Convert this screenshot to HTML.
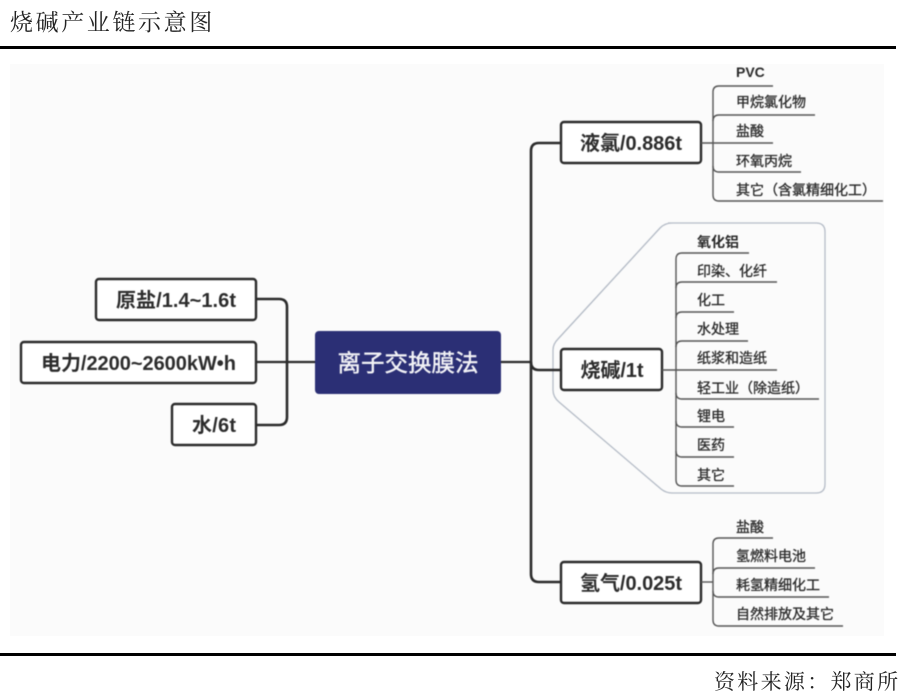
<!DOCTYPE html>
<html lang="zh">
<head>
<meta charset="utf-8">
<title>烧碱产业链示意图</title>
<style>
html,body{margin:0;padding:0;background:#fff;}
body{width:910px;height:696px;overflow:hidden;position:relative;}
svg{position:absolute;left:0;top:0;}
.d{filter:blur(.5px);}
.box{fill:#fff;stroke:#2b2b2b;stroke-width:2.4;}
.main{fill:none;stroke:#2b2b2b;stroke-width:2.6;}
.thin{fill:none;stroke:#555;stroke-width:1.4;}
.hd{font-family:"Liberation Sans","Noto Sans CJK SC",sans-serif;font-weight:700;font-size:20px;fill:#2c2c2c;text-anchor:middle;}
.lf{font-family:"Liberation Sans","Noto Sans CJK SC",sans-serif;font-weight:700;font-size:20px;fill:#2c2c2c;text-anchor:end;}
.c{font-family:"Liberation Sans","Noto Sans CJK SC",sans-serif;font-size:14px;fill:#2a2a2a;stroke:#2a2a2a;stroke-width:.3px;}
.b{font-weight:700;stroke:none;}
.ser{font-family:"Liberation Serif","Noto Serif CJK SC",serif;fill:#222;}
</style>
</head>
<body>
<svg width="910" height="696" viewBox="0 0 910 696" xmlns="http://www.w3.org/2000/svg">
  <rect x="10" y="64" width="874" height="572" fill="#fbfbfb"/>
  <g class="d">
    <path d="M668 223H816Q825 223 825 232V484Q825 493 816 493H672Q666 493 661 489L559 402Q553 397 553 390V350Q553 344 558 339L660 228Q665 223 672 223Z" fill="none" stroke="#b4bbc6" stroke-width="1.3"/>

    <path class="main" d="M256 299H279Q287 299 287 307V417Q287 425 279 425H256"/>
    <path class="main" d="M256 362H315" style="stroke-width:2.2"/>
    <path class="main" d="M501 362H531" style="stroke-width:2.2"/>
    <path class="main" d="M561 143H539Q531 143 531 151V574Q531 582 539 582H561"/>
    <path class="main" d="M531 362Q531 370 539 370H561"/>

    <rect class="box" x="96" y="279" width="160" height="41" rx="3"/>
    <rect class="box" x="21" y="342" width="235" height="41" rx="3"/>
    <rect class="box" x="172" y="404" width="84" height="41" rx="3"/>
    <rect x="315" y="331" width="186" height="63" rx="4" fill="#2b2f75"/>
    <rect class="box" x="561" y="122" width="140" height="41" rx="3"/>
    <rect class="box" x="561" y="349" width="101" height="41" rx="3"/>
    <rect class="box" x="561" y="562" width="140" height="41" rx="3"/>

    <g class="thin">
      <path d="M773 86H719Q713 86 713 92V195Q713 201 719 201H883"/>
      <path d="M713 121Q713 115 719 115H815"/>
      <path d="M701 143H773"/>
      <path d="M713 166Q713 172 719 172H801"/>

      <path d="M749 253H682Q676 253 676 259V480Q676 486 682 486H734"/>
      <path d="M676 288Q676 282 682 282H777"/>
      <path d="M676 318Q676 312 682 312H734"/>
      <path d="M676 347Q676 341 682 341H748"/>
      <path d="M662 370H777"/>
      <path d="M676 393Q676 399 682 399H819"/>
      <path d="M676 421Q676 427 682 427H734"/>
      <path d="M676 451Q676 457 682 457H734"/>

      <path d="M773 538H719Q713 538 713 544V620Q713 626 719 626H843"/>
      <path d="M713 574Q713 568 719 568H815"/>
      <path d="M701 582H713"/>
      <path d="M713 591Q713 597 719 597H829"/>
    </g>

    <text class="lf" x="236" y="307" textLength="120">原盐/1.4~1.6t</text>
    <text class="lf" x="236" y="370" textLength="195">电力/2200~2600kW•h</text>
    <text class="lf" x="236" y="432" textLength="44">水/6t</text>
    <text x="408" y="371" text-anchor="middle" font-family="'Liberation Sans','Noto Sans CJK SC',sans-serif" font-size="23.5" fill="#f2f2f6" stroke="#f2f2f6" stroke-width=".45">离子交换膜法</text>

    <text class="hd" x="631" y="150" textLength="102">液氯/0.886t</text>
    <text class="hd" x="612" y="377" textLength="63">烧碱/1t</text>
    <text class="hd" x="631" y="590" textLength="102">氢气/0.025t</text>

    <text class="c b" x="736" y="77">PVC</text>
    <text class="c" x="736" y="107">甲烷氯化物</text>
    <text class="c" x="736" y="136">盐酸</text>
    <text class="c" x="736" y="166">环氧丙烷</text>
    <text class="c" x="736" y="195">其它（含氯精细化工）</text>

    <text class="c b" x="697" y="247">氧化铝</text>
    <text class="c" x="697" y="276">印染、化纤</text>
    <text class="c" x="697" y="305">化工</text>
    <text class="c" x="697" y="334">水处理</text>
    <text class="c" x="697" y="363">纸浆和造纸</text>
    <text class="c" x="697" y="393">轻工业（除造纸）</text>
    <text class="c" x="697" y="421">锂电</text>
    <text class="c" x="697" y="450">医药</text>
    <text class="c" x="697" y="480">其它</text>

    <text class="c" x="736" y="532">盐酸</text>
    <text class="c" x="736" y="561">氢燃料电池</text>
    <text class="c" x="736" y="590">耗氢精细化工</text>
    <text class="c" x="736" y="619">自然排放及其它</text>
  </g>

  <text class="ser" x="10" y="30" font-size="23" letter-spacing="2.6">烧碱产业链示意图</text>
  <rect x="0" y="46" width="896" height="3" fill="#000"/>
  <rect x="0" y="653" width="896" height="3" fill="#000"/>
  <text class="ser" x="714" y="689" font-size="21" letter-spacing="2.3">资料来源：郑商所</text>
</svg>
</body>
</html>
